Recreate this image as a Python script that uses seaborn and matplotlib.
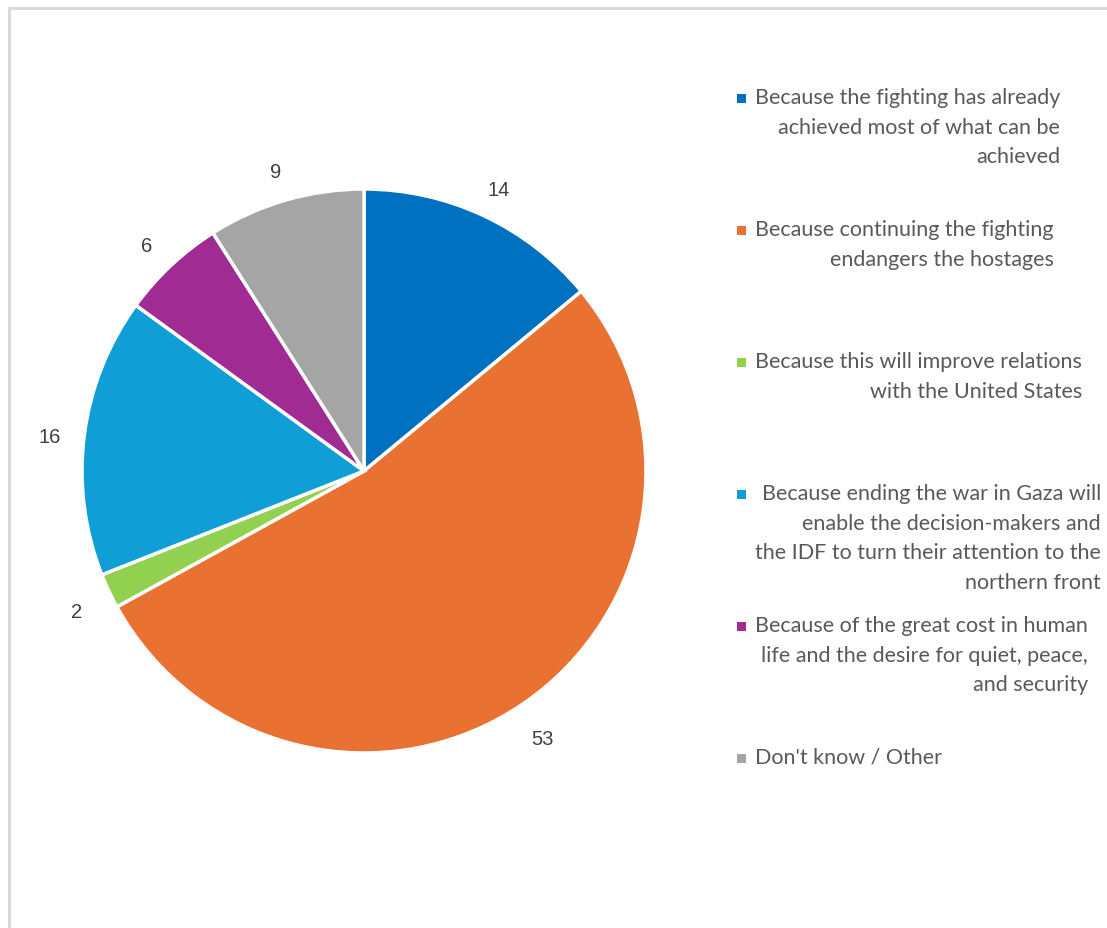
import matplotlib
matplotlib.use("Agg")
import matplotlib.pyplot as plt
from matplotlib.patches import Rectangle
import seaborn as sns

categories = [
    "Because the fighting has already\nachieved most of what can be\nachieved",
    "Because continuing the fighting\nendangers the hostages",
    "Because this will improve relations\nwith the United States",
    "Because ending the war in Gaza will\nenable the decision-makers and\nthe IDF to turn their attention to the\nnorthern front",
    "Because of the great cost in human\nlife and the desire for quiet, peace,\nand security",
    "Don't know / Other",
]
values = [14, 53, 2, 16, 6, 9]
colors = ["#0070C0", "#E97132", "#92D050", "#0F9ED5", "#A02B93", "#A5A5A5"]

sns.set_theme(style="white")
plt.rcParams["font.family"] = ["Lato", "DejaVu Sans"]

W, H = 1107, 929
fig = plt.figure(figsize=(W / 100, H / 100), dpi=100)
fig.patch.set_facecolor("white")

# chart area frame (top and left edges visible)
fig.patches.append(Rectangle((8.5 / W, -0.2), 1.3, 1.2 - 8.5 / H,
                             transform=fig.transFigure, fill=False,
                             edgecolor="#d9d9d9", linewidth=2.2, zorder=0))

cx, cy, r = 364, 472, 282
ax = fig.add_axes([(cx - r) / W, (H - cy - r) / H, 2 * r / W, 2 * r / H])
palette = sns.color_palette(colors)
wedges, texts = ax.pie(
    values,
    labels=[str(v) for v in values],
    colors=palette,
    startangle=90,
    counterclock=False,
    labeldistance=1.125,
    wedgeprops=dict(edgecolor="white", linewidth=2.5),
    textprops=dict(fontsize=14.5, color="#404040", family="Liberation Sans"),
)
for t in texts:
    t.set_ha("center")
    t.set_va("center_baseline")
    x, y = t.get_position()
    t.set_position((x, y - 0.012))
ax.set_xlim(-1, 1)
ax.set_ylim(-1, 1)
ax.set_aspect("equal")
ax.axis("off")

# legend: square marker aligned with the first line of each entry
lax = fig.add_axes([0, 0, 1, 1], facecolor="none")
lax.set_xlim(0, W)
lax.set_ylim(H, 0)
lax.axis("off")
first_baseline = 105
step = 132
for i, (lab, col) in enumerate(zip(categories, colors)):
    yb = first_baseline + i * step
    lax.add_patch(Rectangle((737, yb - 10), 8.5, 8.5, facecolor=col,
                            edgecolor="none"))
    lax.text(755, yb - 17, lab, ha="left", va="top", multialignment="right",
             fontsize=15.5, color="#595959", linespacing=1.6)

fig.savefig("out.png", dpi=100, facecolor="white")
